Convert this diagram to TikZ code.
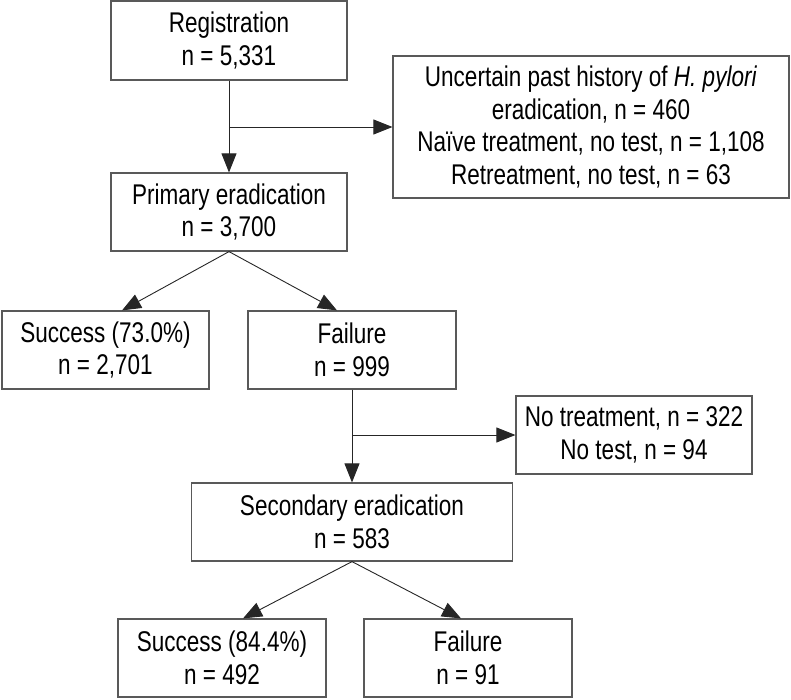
\documentclass[tikz,border=0pt]{standalone}
\usepackage{fontspec}
\setmainfont[FakeStretch=0.79]{Liberation Sans}
\usetikzlibrary{arrows.meta}
\begin{document}
\begin{tikzpicture}[x=1pt,y=-1pt,
  box/.style={draw=black!65,line width=1.2pt,rectangle,inner sep=0pt,align=center,
    font=\fontsize{28.5}{32.5}\selectfont,text=black},
  conn/.style={draw=black!85,line width=0.9pt,-{Triangle[length=19pt,width=15pt]}}]
\useasboundingbox (0,0) rectangle (791,699);
\node[box,minimum width=236pt,minimum height=79pt] (reg) at (229,40.5) {Registration\\n = 5,331};
\node[box,minimum width=396pt,minimum height=142pt] (unc) at (591,127) {Uncertain past history of \textit{H. pylori}\\eradication, n = 460\\Naïve treatment, no test, n = 1,108\\Retreatment, no test, n = 63};
\node[box,minimum width=236pt,minimum height=78pt] (prim) at (229,212) {Primary eradication\\n = 3,700};
\node[box,minimum width=207pt,minimum height=78pt] (succ1) at (105.5,350) {Success (73.0\%)\\n = 2,701};
\node[box,minimum width=208pt,minimum height=78pt] (fail1) at (352,350) {Failure\\n = 999};
\node[box,minimum width=236pt,minimum height=78pt] (notr) at (634,435) {No treatment, n = 322\\No test, n = 94};
\node[box,minimum width=321pt,minimum height=78pt] (sec) at (352,522) {Secondary eradication\\n = 583};
\node[box,minimum width=208pt,minimum height=78pt] (succ2) at (222,658) {Success (84.4\%)\\n = 492};
\node[box,minimum width=208pt,minimum height=78pt] (fail2) at (468,658) {Failure\\n = 91};
\coordinate (b1) at (reg.south |- unc.west);
\coordinate (b2) at (fail1.south |- notr.west);
\draw[conn] (reg.south) -- (prim.north);
\draw[conn] (b1) -- (unc.west);
\draw[conn] (prim.south) -- ([xshift=16.5pt]succ1.north);
\draw[conn] (prim.south) -- ([xshift=-15pt]fail1.north);
\draw[conn] (fail1.south) -- (sec.north);
\draw[conn] (b2) -- (notr.west);
\draw[conn] (sec.south) -- ([xshift=21pt]succ2.north);
\draw[conn] (sec.south) -- ([xshift=-7pt]fail2.north);
\end{tikzpicture}
\end{document}
